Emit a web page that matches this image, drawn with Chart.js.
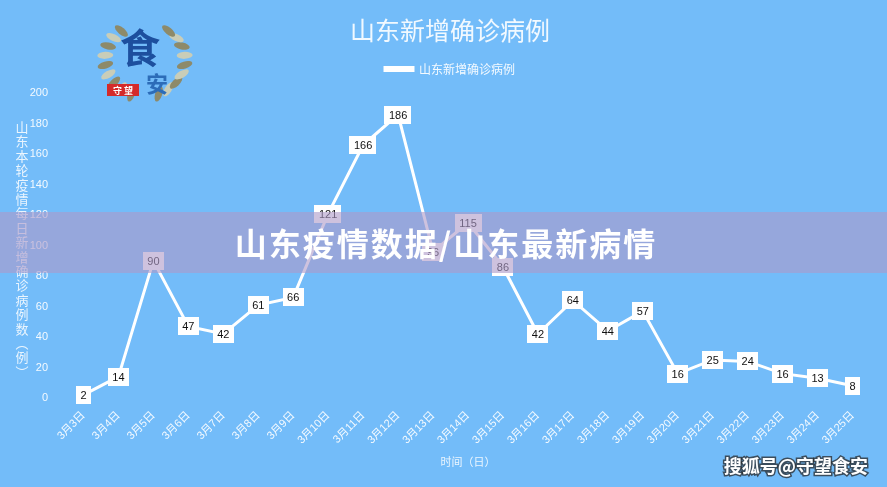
<!DOCTYPE html>
<html>
<head>
<meta charset="utf-8">
<script src="https://cdn.jsdelivr.net/npm/chart.js@4.4.1/dist/chart.umd.min.js"></script>
<style>
  html, body { margin: 0; padding: 0; background: #73bcf9; }
</style>
</head>
<body>
<canvas id="chart" width="887" height="487"></canvas>
<script>
// data
const days = ['3月3日', '3月4日', '3月5日', '3月6日', '3月7日', '3月8日', '3月9日', '3月10日',
  '3月11日', '3月12日', '3月13日', '3月14日', '3月15日', '3月16日', '3月17日', '3月18日',
  '3月19日', '3月20日', '3月21日', '3月22日', '3月23日', '3月24日', '3月25日'];
const newCases = [2, 14, 90, 47, 42, 61, 66, 121, 166, 186, 96, 115, 86, 42, 64, 44, 57, 16, 25, 24, 16, 13, 8];
const yTicks = [0, 20, 40, 60, 80, 100, 120, 140, 160, 180, 200];

const seriesName = '山东新增确诊病例';
const yTitle = '山东本轮疫情每日新增确诊病例数（例）';
const xTitle = '时间（日）';
const bannerText = '山东疫情数据/山东最新病情';
const watermark = '搜狐号@守望食安';

const BG = '#73bcf9';
const FONT = '"Liberation Sans", "Noto Sans CJK SC", sans-serif';
Chart.defaults.font.family = FONT;

// background fill
const bgPlugin = {
  id: 'bg',
  beforeDraw(chart) {
    const c = chart.ctx;
    c.save();
    c.fillStyle = BG;
    c.fillRect(0, 0, chart.width, chart.height);
    c.restore();
  }
};

// white boxes with the value in them
const boxLabels = {
  id: 'boxLabels',
  afterDatasetsDraw(chart) {
    const c = chart.ctx;
    const meta = chart.getDatasetMeta(0);
    c.save();
    c.font = '11px ' + FONT;
    c.textAlign = 'center';
    c.textBaseline = 'middle';
    meta.data.forEach((pt, i) => {
      const txt = String(newCases[i]);
      const w = c.measureText(txt).width + 9;
      const h = 18;
      c.fillStyle = '#ffffff';
      c.fillRect(Math.round(pt.x - w / 2), Math.round(pt.y - h / 2), Math.round(w), h);
      c.fillStyle = '#111111';
      c.fillText(txt, pt.x, pt.y + 1);
    });
    c.restore();
  }
};

// the y title, written top to bottom one character at a time
const vertForms = { '（': '︵', '）': '︶' };
const stackedYTitle = {
  id: 'stackedYTitle',
  afterDraw(chart) {
    const c = chart.ctx;
    c.save();
    c.font = '13px "Noto Sans CJK SC", sans-serif';
    c.fillStyle = 'rgba(255,255,255,0.85)';
    c.textAlign = 'center';
    c.textBaseline = 'middle';
    Array.from(yTitle).forEach((ch, i) => {
      c.fillText(vertForms[ch] || ch, 22, 127 + i * 14.4);
    });
    c.restore();
  }
};

// small logo in the top left corner
const logo = {
  id: 'logo',
  afterDraw(chart) {
    const c = chart.ctx;
    const cx = 145, cy = 60;
    c.save();
    for (let side = -1; side <= 1; side += 2) {
      for (let k = 0; k < 9; k++) {
        const a = Math.PI / 2 + side * (0.35 + k * 0.27);
        const y = cy + Math.sin(a) * 36;
        c.save();
        c.translate(cx + side * Math.abs(Math.cos(a)) * 40, y);
        c.rotate(side * (a - Math.PI / 2) * 0.9);
        c.fillStyle = k % 2 ? '#c9cdb8' : '#8d8a6a';
        c.beginPath();
        c.ellipse(0, 0, 3.5, 8, 0, 0, Math.PI * 2);
        c.fill();
        c.restore();
      }
    }
    c.font = 'bold 40px "Noto Sans CJK SC", sans-serif';
    c.fillStyle = '#1d4f9e';
    c.textAlign = 'center';
    c.textBaseline = 'middle';
    c.fillText('食', cx - 5, cy - 12);
    c.font = 'bold 22px "Noto Sans CJK SC", sans-serif';
    c.fillStyle = '#2c6cb8';
    c.fillText('安', cx + 12, cy + 24);
    c.fillStyle = '#d42a2a';
    c.fillRect(cx - 38, cy + 24, 32, 12);
    c.font = 'bold 9px "Noto Sans CJK SC", sans-serif';
    c.fillStyle = '#ffffff';
    c.fillText('守 望', cx - 22, cy + 30.5);
    c.restore();
  }
};

// translucent band with the headline, and the watermark
const overlay = {
  id: 'overlay',
  afterDraw(chart) {
    const c = chart.ctx;
    c.save();
    c.fillStyle = 'rgba(173,153,200,0.6)';
    c.fillRect(0, 212, chart.width, 61);
    c.font = 'bold 32px "Noto Sans CJK SC", sans-serif';
    c.letterSpacing = '2px';
    c.fillStyle = '#ffffff';
    c.textAlign = 'center';
    c.textBaseline = 'middle';
    c.fillText(bannerText, 446, 244);
    c.letterSpacing = '0px';

    c.font = 'bold 18px "Noto Sans CJK SC", sans-serif';
    c.textAlign = 'right';
    c.textBaseline = 'middle';
    c.lineWidth = 3;
    c.strokeStyle = 'rgba(40,40,40,0.75)';
    c.strokeText(watermark, 868, 466);
    c.fillStyle = '#ffffff';
    c.fillText(watermark, 868, 466);
    c.restore();
  }
};

new Chart(document.getElementById('chart').getContext('2d'), {
  type: 'line',
  data: {
    labels: days,
    datasets: [{
      label: seriesName,
      data: newCases,
      borderColor: '#ffffff',
      backgroundColor: '#ffffff',
      borderWidth: 3,
      pointRadius: 0,
      tension: 0
    }]
  },
  options: {
    responsive: false,
    animation: false,
    layout: { padding: { left: 30, right: 17, top: 6, bottom: 17 } },
    scales: {
      x: {
        offset: true,
        grid: { display: false, offset: true },
        border: { display: false },
        ticks: {
          color: 'rgba(255,255,255,0.92)',
          font: { size: 11 },
          maxRotation: 45,
          minRotation: 45,
          autoSkip: false
        },
        title: {
          display: true,
          text: xTitle,
          color: 'rgba(255,255,255,0.85)',
          font: { size: 11 },
          padding: { top: 4, bottom: 0 }
        },
        afterFit(s) { s.height = 72; }
      },
      y: {
        min: 0,
        max: 200,
        afterBuildTicks(s) { s.ticks = yTicks.map(v => ({ value: v })); },
        grid: { display: false },
        border: { display: false },
        ticks: {
          color: 'rgba(255,255,255,0.92)',
          font: { size: 11 },
          padding: 10
        },
        afterFit(s) { s.width = 36; }
      }
    },
    plugins: {
      title: {
        display: true,
        text: seriesName,
        color: 'rgba(255,255,255,0.9)',
        font: { size: 25, weight: 'normal', family: '"Noto Sans CJK SC", sans-serif' },
        padding: { top: 9, bottom: 4 }
      },
      // empty spacer between the legend and the plot
      subtitle: {
        display: true,
        text: ' ',
        weight: 500,
        font: { size: 1 },
        padding: { top: 4, bottom: 3 }
      },
      legend: {
        labels: {
          color: 'rgba(255,255,255,0.92)',
          font: { size: 12, family: '"Noto Sans CJK SC", sans-serif' },
          boxWidth: 28,
          boxHeight: 3,
          padding: 14
        }
      },
      tooltip: { enabled: false }
    }
  },
  plugins: [bgPlugin, boxLabels, stackedYTitle, logo, overlay]
});
</script>
</body>
</html>
